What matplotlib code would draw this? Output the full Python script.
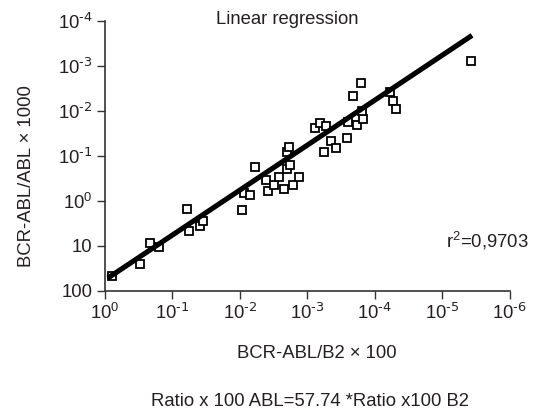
import matplotlib
matplotlib.use('agg')
import matplotlib.pyplot as plt
import numpy as np

plt.rcParams['font.family'] = ['Liberation Sans', 'DejaVu Sans']
plt.rcParams['mathtext.default'] = 'regular'

# log10 of BCR-ABL/B2 x 100 (x) and BCR-ABL/ABL x 1000 (y)
log_b2 = [-0.11, -0.52, -0.66, -0.80, -1.21, -1.24, -1.41, -1.46, -2.03, -2.06,
          -2.15, -2.23, -2.39, -2.42, -2.51, -2.58, -2.65, -2.70, -2.74, -2.70,
          -2.73, -2.78, -2.88, -3.12, -3.19, -3.27, -3.24, -3.35, -3.42, -3.60,
          -3.59, -3.74, -3.82, -3.81, -3.67, -3.80, -4.23, -4.27, -4.31, -5.42]
log_abl = [1.67, 1.41, 0.93, 1.02, 0.18, 0.67, 0.55, 0.46, 0.21, -0.17,
           -0.14, -0.75, -0.46, -0.22, -0.36, -0.53, -0.26, -0.70, -0.79, -1.08,
           -1.20, -0.35, -0.53, -1.61, -1.72, -1.66, -1.09, -1.33, -1.17, -1.76,
           -1.40, -1.69, -1.81, -1.99, -2.34, -2.61, -2.43, -2.21, -2.04, -3.10]

slope_coef = 57.74
fit_range = [10 ** -0.074, 10 ** -5.41]

xticks = [1, 1e-1, 1e-2, 1e-3, 1e-4, 1e-5, 1e-6]
xticklabels = ['$10^{0}$', '$10^{\\text{-1}}$', '$10^{\\text{-2}}$', '$10^{\\text{-3}}$',
               '$10^{\\text{-4}}$', '$10^{\\text{-5}}$', '$10^{\\text{-6}}$']
yticks = [1e2, 1e1, 1, 1e-1, 1e-2, 1e-3, 1e-4]
yticklabels = ['100', '10', '$10^{0}$', '$10^{\\text{-1}}$', '$10^{\\text{-2}}$',
               '$10^{\\text{-3}}$', '$10^{\\text{-4}}$']

txt = '#231f20'
fig = plt.figure(figsize=(5.35, 4.13), dpi=100)
ax = fig.add_axes([105 / 535, 1 - 290.7 / 413, (509.7 - 105) / 535, (290.7 - 21) / 413])

x = 10 ** np.array(log_b2)
y = 10 ** np.array(log_abl)
ax.plot(x, y, ls='none', marker='s', ms=5.2, mfc='white', mec='black', mew=1.3, zorder=2)

fx = np.array(fit_range)
ax.plot(fx, slope_coef * fx, color='black', lw=3.7, zorder=3, clip_on=False)

ax.set_xscale('log')
ax.set_yscale('log')
ax.set_xlim(1, 1e-6)
ax.set_ylim(1e2, 1e-4)
ax.minorticks_off()
ax.set_xticks(xticks)
ax.set_xticklabels(xticklabels)
ax.set_yticks(yticks)
ax.set_yticklabels(yticklabels)
ax.tick_params(direction='out', length=6, width=1, labelsize=13.3, colors='#333333',
               labelcolor=txt, pad=3)

for s in ['top', 'right']:
    ax.spines[s].set_visible(False)
for s in ['left', 'bottom']:
    ax.spines[s].set_linewidth(1.2)
    ax.spines[s].set_color('#333333')

fig.text(27 / 535, 1 - 176 / 413, 'BCR-ABL/ABL \u00d7 1000', rotation=90,
         ha='center', va='center', fontsize=13.3, color=txt)
fig.text(316.7 / 535, 1 - 353.5 / 413, 'BCR-ABL/B2 \u00d7 100',
         ha='center', va='center', fontsize=13.3, color=txt)
fig.text(310.4 / 535, 1 - 401 / 413, 'Ratio x 100 ABL=57.74 *Ratio x100 B2',
         ha='center', va='center', fontsize=13.3, color=txt)
fig.text(287.5 / 535, 1 - 20 / 413, 'Linear regression',
         ha='center', va='center', fontsize=13.3, color=txt)
fig.text(529 / 535, 1 - 241 / 413, '$r^{2}$=0,9703',
         ha='right', va='center', fontsize=13.3, color=txt)

fig.savefig('out.png', dpi=100)
